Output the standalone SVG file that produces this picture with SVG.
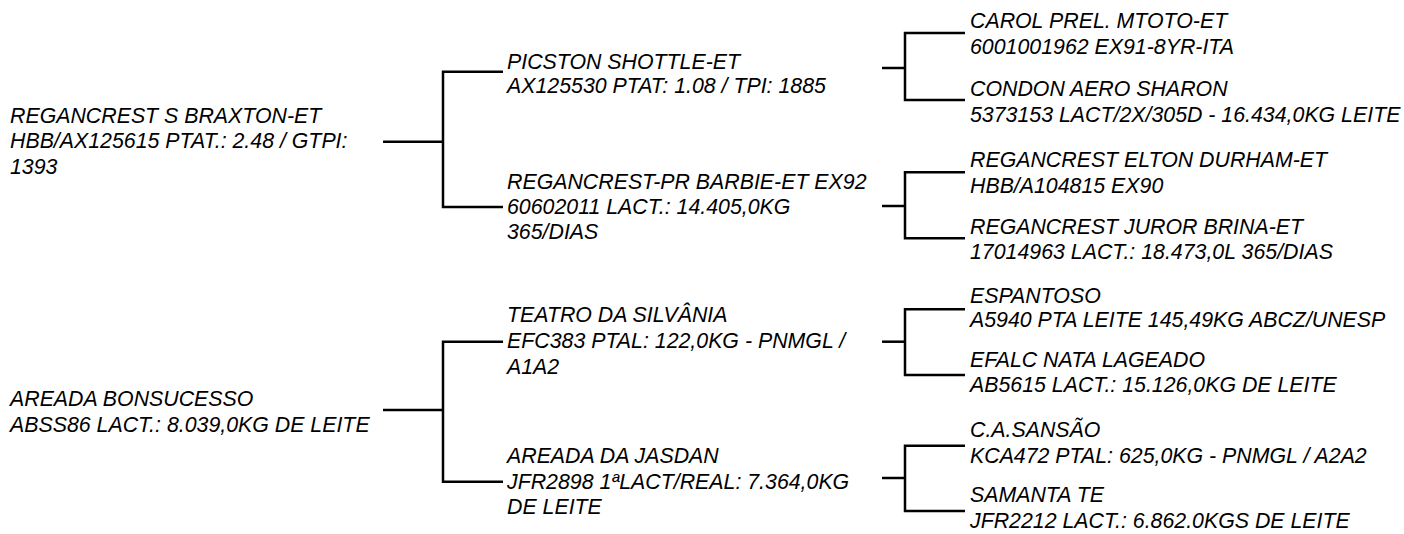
<svg xmlns="http://www.w3.org/2000/svg" width="1404" height="534" viewBox="0 0 1404 534">
<style>
text{font-family:"Liberation Sans",Arial,sans-serif;font-size:21.33px;font-style:italic;fill:#000}
.c path{fill:none;stroke:#000;stroke-width:2.5;stroke-linejoin:miter}
</style>
<rect width="1404" height="534" fill="#fff"/>
<g class="c" id="connectors">
<path d="M383,141.7 H443"/>
<path d="M503,71.7 H443 V207 H503"/>
<path d="M882,68 H905"/>
<path d="M965,33 H905 V100 H965"/>
<path d="M882,206 H905"/>
<path d="M965,172.3 H905 V238.3 H965"/>
<path d="M383,410 H443"/>
<path d="M503,341.7 H443 V481.7 H503"/>
<path d="M882,341.7 H905"/>
<path d="M965,309.3 H905 V375 H965"/>
<path d="M882,478 H905"/>
<path d="M965,445.7 H905 V511 H965"/>
</g>
<g id="n-root1"><text x="10" y="122.7">REGANCREST S BRAXTON-ET</text><text x="10" y="148.3">HBB/AX125615 PTAT.: 2.48 / GTPI:</text><text x="10" y="174">1393</text></g>
<g id="n-picston"><text x="507" y="68.5">PICSTON SHOTTLE-ET</text><text x="507" y="92.5">AX125530 PTAT: 1.08 / TPI: 1885</text></g>
<g id="n-barbie"><text x="507" y="189">REGANCREST-PR BARBIE-ET EX92</text><text x="507" y="214">60602011 LACT.: 14.405,0KG</text><text x="507" y="238.5">365/DIAS</text></g>
<g id="n-carol"><text x="970" y="28.3">CAROL PREL. MTOTO-ET</text><text x="970" y="54">6001001962 EX91-8YR-ITA</text></g>
<g id="n-condon"><text x="970" y="96">CONDON AERO SHARON</text><text x="970" y="122">5373153 LACT/2X/305D - 16.434,0KG LEITE</text></g>
<g id="n-elton"><text x="970" y="167">REGANCREST ELTON DURHAM-ET</text><text x="970" y="192.5">HBB/A104815 EX90</text></g>
<g id="n-juror"><text x="970" y="233.5">REGANCREST JUROR BRINA-ET</text><text x="970" y="258.5">17014963 LACT.: 18.473,0L 365/DIAS</text></g>
<g id="n-root2"><text x="10" y="406">AREADA BONSUCESSO</text><text x="10" y="431.7">ABSS86 LACT.: 8.039,0KG DE LEITE</text></g>
<g id="n-teatro"><text x="507" y="322">TEATRO DA SILVÂNIA</text><text x="507" y="348">EFC383 PTAL: 122,0KG - PNMGL /</text><text x="507" y="373.5">A1A2</text></g>
<g id="n-jasdan"><text x="507" y="463">AREADA DA JASDAN</text><text x="507" y="489">JFR2898 1ªLACT/REAL: 7.364,0KG</text><text x="507" y="514">DE LEITE</text></g>
<g id="n-espantoso"><text x="970" y="302.5">ESPANTOSO</text><text x="970" y="327">A5940 PTA LEITE 145,49KG ABCZ/UNESP</text></g>
<g id="n-efalc"><text x="970" y="367">EFALC NATA LAGEADO</text><text x="970" y="392">AB5615 LACT.: 15.126,0KG DE LEITE</text></g>
<g id="n-sansao"><text x="970" y="437">C.A.SANSÃO</text><text x="970" y="463">KCA472 PTAL: 625,0KG - PNMGL / A2A2</text></g>
<g id="n-samanta"><text x="970" y="502">SAMANTA TE</text><text x="970" y="528">JFR2212 LACT.: 6.862.0KGS DE LEITE</text></g>
</svg>
